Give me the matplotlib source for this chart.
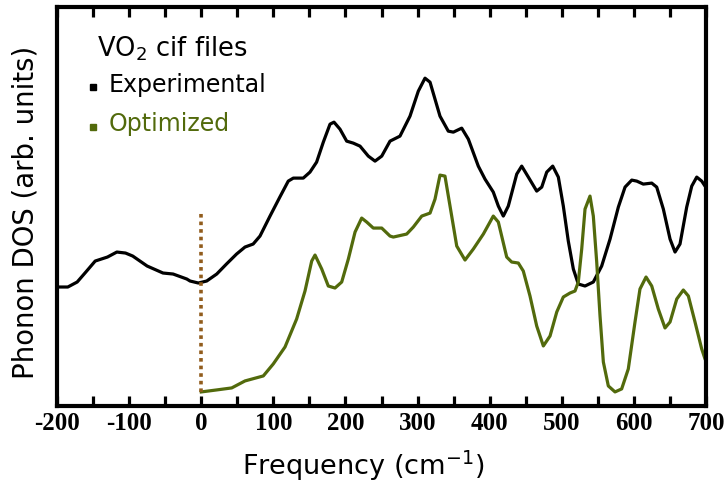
import numpy as np
import matplotlib
matplotlib.use("Agg")
import matplotlib.pyplot as plt

# Experimental VO2 phonon DOS (arb. units)
exp_freq = [-200, -185, -172, -160, -147, -130, -117, -105, -95, -75, -53, -39, -20,
            -15.5, -4, 7.6, 21.5, 35, 49, 60.7, 72, 81.5, 95.4, 109, 120.7, 127.7,
            141.5, 150.8, 160, 169.3, 178.6, 184.1, 192.4, 201.7, 210.9, 220.2,
            231.7, 241, 250.3, 261.8, 275.6, 289.5, 301, 310.3, 317.3, 331.1,
            342.6, 349.6, 361.2, 370.4, 384.2, 393.5, 405, 412, 418.9, 425.8,
            437.5, 444.4, 453.6, 465.2, 472.2, 479.1, 487.4, 495.2, 502.1, 509,
            516, 522.9, 532.2, 543.7, 555.3, 566.9, 578.4, 587.7, 597, 603.9, 613,
            624.7, 631.6, 640.8, 650.1, 657, 663.9, 673.2, 680.2, 687.1, 694,
            698.6, 700]
exp_dos = [119, 119, 124, 134, 145, 149, 154, 153, 150, 140, 133, 132, 127,
           125, 123, 125, 132, 142, 152, 159, 162, 170, 190, 209, 225, 228,
           228, 234, 244, 264, 282, 284, 277, 265, 263, 260,
           250, 245, 250, 265, 270, 290, 315, 328, 324, 290,
           275, 274, 278, 267, 240, 227, 214, 200, 190, 200,
           232, 240, 229, 215, 219, 234, 240, 229, 200, 165,
           137, 122, 120, 124, 140, 167, 199, 219, 226, 225, 222,
           223, 219, 197, 167, 154, 162, 199, 220, 229, 225,
           220, 219]

# Optimized VO2 phonon DOS (arb. units)
opt_freq = [0, 21.5, 42.3, 60.7, 86.1, 99.9, 116.2, 132.3, 143.9, 153.2, 157.8,
            167.1, 176.2, 185.5, 194.8, 204, 213.3, 222.5, 229.5, 238.6, 250.3,
            261.8, 266.4, 284.9, 294.1, 305.8, 317.3, 324.2, 331.1, 338, 345,
            354.3, 365.8, 377.3, 391.2, 405, 412, 423.6, 430.5, 439.7, 446.6,
            455.9, 465.2, 474.4, 483.7, 493, 502.1, 511.4, 518.3, 522.9, 527.6,
            532.2, 539.1, 543.7, 548.4, 553, 557.6, 564.5, 573.8, 583, 592.2,
            601.5, 608.4, 616.8, 624.7, 633.8, 643.1, 650.1, 659.4, 668.5, 675.5,
            684.7, 694, 698.6, 700]
opt_dos = [14, 16, 18, 25, 30, 42, 59, 87, 115, 145, 151,
           137, 120, 118, 124, 147, 174, 188, 184, 178, 178,
           170, 169, 172, 179, 190, 193, 207, 231, 230, 200,
           160, 146, 157, 172, 190, 184, 149, 144, 143, 135,
           110, 80, 60, 70, 94, 109, 113, 115, 124, 157,
           197, 210, 190, 144, 90, 44, 20, 14, 17, 37,
           84, 117, 129, 120, 97, 78, 84, 107, 116, 110,
           84, 57, 47, 45]

x_ticks = [-200, -100, 0, 100, 200, 300, 400, 500, 600, 700]
legend_title = "VO$_2$ cif files"
series_names = ["Experimental", "Optimized"]

black = "#000000"
green = "#526a0c"
brown = "#915c1c"

fig = plt.figure(figsize=(7.26, 4.85), dpi=100)
ax = fig.add_axes([0.0785, 0.161, 0.894, 0.822])

ax.plot(exp_freq, exp_dos, color=black, lw=2.3, solid_joinstyle="round")
ax.plot(opt_freq, opt_dos, color=green, lw=2.3, solid_joinstyle="round")
ax.plot([0, 0], [14, 195], color=brown, lw=2.6, linestyle=(0, (1, 1.1)))

ax.set_xlim(-200, 700)
ax.set_ylim(0, 399)
ax.set_xticks(x_ticks)
ax.set_xticks(np.arange(-150, 700, 100), minor=True)
ax.set_xticklabels([str(t) for t in x_ticks], fontfamily="Liberation Serif",
                   fontweight="bold", fontsize=18)
ax.tick_params(axis="x", which="both", direction="in", top=True, length=7.5,
               width=2.3, pad=4)
ax.set_yticks([])
for s in ax.spines.values():
    s.set_linewidth(3)

ax.set_xlabel("Frequency (cm$^{-1}$)", fontsize=19.5, fontfamily="DejaVu Sans")
ax.xaxis.set_label_coords(0.4715, -0.105)
ax.set_ylabel("Phonon DOS (arb. units)", fontsize=19.8, fontfamily="DejaVu Sans")
ax.yaxis.set_label_coords(-0.027, 0.487)

# legend as text
ax.text(0.062, 0.880, legend_title, transform=ax.transAxes, fontsize=18.5,
        color=black, va="baseline", ha="left")
ax.plot([0.056], [0.800], marker="s", ms=4.8, color=black, transform=ax.transAxes,
        clip_on=False, lw=0)
ax.text(0.080, 0.791, series_names[0], transform=ax.transAxes, fontsize=17,
        color=black, va="baseline", ha="left")
ax.plot([0.056], [0.699], marker="s", ms=4.8, color=green, transform=ax.transAxes,
        clip_on=False, lw=0)
ax.text(0.080, 0.693, series_names[1], transform=ax.transAxes, fontsize=17,
        color=green, va="baseline", ha="left")

fig.savefig("out.png", dpi=100)
